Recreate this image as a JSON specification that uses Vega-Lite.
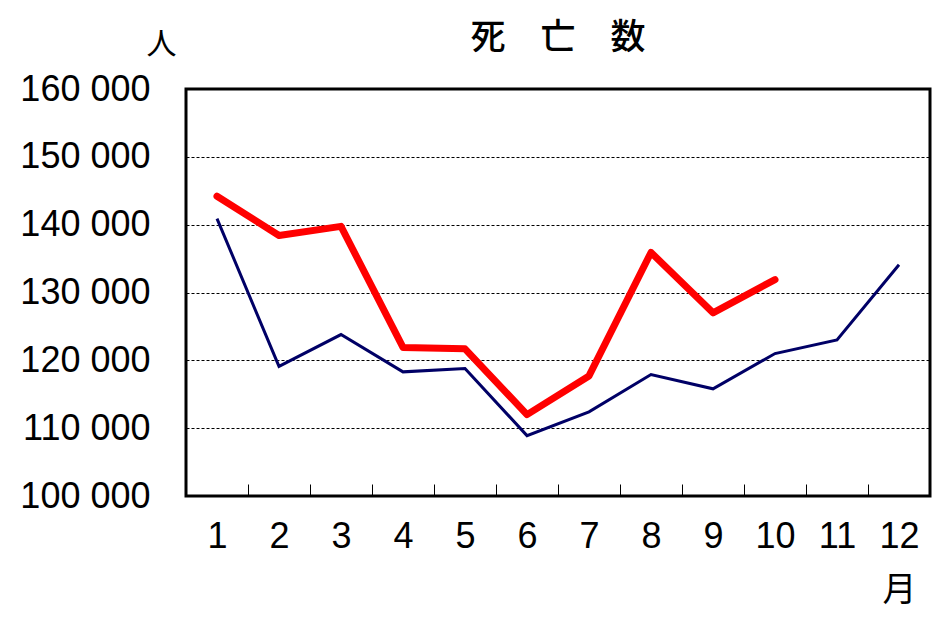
{
  "$schema": "https://vega.github.io/schema/vega-lite/v6.json",
  "width": 744,
  "height": 407,
  "autosize": {"type": "none"},
  "padding": {"left": 186, "top": 89, "right": 14, "bottom": 136},
  "background": "white",
  "title": {"text": "死　亡　数", "fontSize": 35, "font": "Noto Sans CJK JP", "fontWeight": 500, "color": "black", "anchor": "middle", "offset": 0, "dy": 27},
  "config": {"view": {"stroke": "black", "strokeWidth": 3}},
  "data": {"values": [
    {"month": 1, "series": "prev", "deaths": 140900},
    {"month": 2, "series": "prev", "deaths": 119100},
    {"month": 3, "series": "prev", "deaths": 123800},
    {"month": 4, "series": "prev", "deaths": 118300},
    {"month": 5, "series": "prev", "deaths": 118800},
    {"month": 6, "series": "prev", "deaths": 108900},
    {"month": 7, "series": "prev", "deaths": 112400},
    {"month": 8, "series": "prev", "deaths": 117900},
    {"month": 9, "series": "prev", "deaths": 115800},
    {"month": 10, "series": "prev", "deaths": 121000},
    {"month": 11, "series": "prev", "deaths": 123000},
    {"month": 12, "series": "prev", "deaths": 134100},
    {"month": 1, "series": "curr", "deaths": 144200},
    {"month": 2, "series": "curr", "deaths": 138400},
    {"month": 3, "series": "curr", "deaths": 139750},
    {"month": 4, "series": "curr", "deaths": 121900},
    {"month": 5, "series": "curr", "deaths": 121700},
    {"month": 6, "series": "curr", "deaths": 112000},
    {"month": 7, "series": "curr", "deaths": 117700},
    {"month": 8, "series": "curr", "deaths": 135900},
    {"month": 9, "series": "curr", "deaths": 127000},
    {"month": 10, "series": "curr", "deaths": 131900}
  ]},
  "encoding": {
    "x": {
      "field": "month", "type": "ordinal", "bandPosition": 0.5,
      "scale": {"type": "band", "paddingInner": 0, "paddingOuter": 0, "domain": [1,2,3,4,5,6,7,8,9,10,11,12]},
      "axis": {
        "title": "月", "titleX": 713, "titleY": 94, "titleAlign": "center", "titleBaseline": "middle",
        "titleFont": "Noto Sans CJK JP", "titleFontSize": 34, "titleFontWeight": "normal", "titleColor": "black",
        "labelAngle": 0, "labelFont": "Liberation Sans", "labelFontSize": 36, "labelColor": "black", "labelPadding": 35,
        "tickBand": "extent", "tickSize": -12, "tickColor": "black", "tickWidth": 1,
        "domain": false, "grid": false
      }
    },
    "y": {
      "field": "deaths", "type": "quantitative",
      "scale": {"domain": [100000, 160000], "nice": false, "zero": false},
      "axis": {
        "title": "人", "titleAngle": 0, "titleX": -25, "titleY": -45, "titleAlign": "center", "titleBaseline": "middle",
        "titleFont": "Noto Sans CJK JP", "titleFontSize": 30, "titleFontWeight": "normal", "titleColor": "black",
        "values": [100000, 110000, 120000, 130000, 140000, 150000, 160000],
        "labelExpr": "replace(format(datum.value, ',d'), ',', ' ')",
        "labelFont": "Liberation Sans", "labelFontSize": 36, "labelColor": "black", "labelPadding": 36,
        "labelOverlap": false, "labelFlush": false,
        "ticks": false, "domain": false,
        "grid": true, "gridColor": "black", "gridDash": [3, 2], "gridWidth": 1, "gridOpacity": 1
      }
    }
  },
  "layer": [
    {
      "transform": [{"filter": "datum.series === 'prev'"}],
      "mark": {"type": "line", "color": "#000066", "strokeWidth": 3, "strokeJoin": "miter"}
    },
    {
      "transform": [{"filter": "datum.series === 'curr'"}],
      "mark": {"type": "line", "color": "#ff0000", "strokeWidth": 7, "strokeCap": "round", "strokeJoin": "round"}
    }
  ]
}
